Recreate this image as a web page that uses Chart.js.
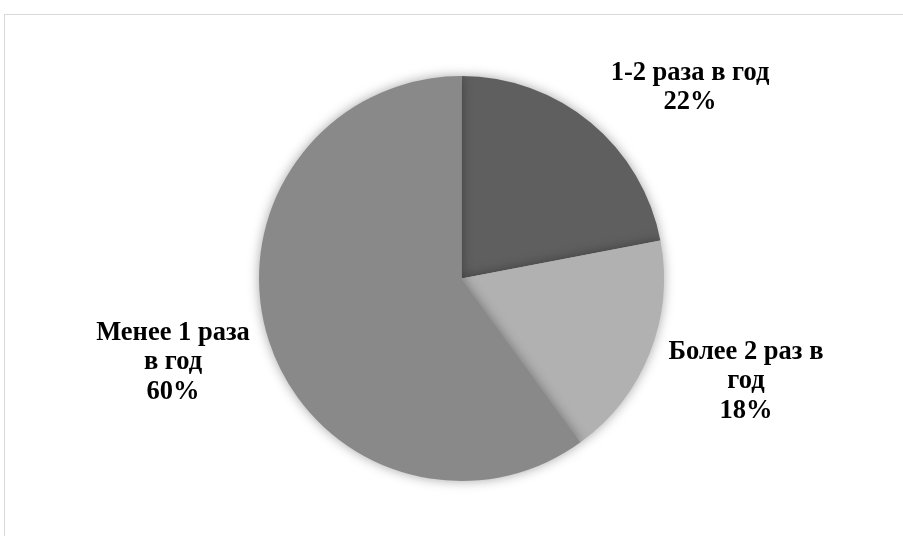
<!DOCTYPE html>
<html>
<head>
<meta charset="utf-8">
<script src="https://cdn.jsdelivr.net/npm/chart.js@4"></script>
<style>
  html, body { margin: 0; padding: 0; background: #fff; }
  #wrap { position: relative; width: 903px; height: 536px; overflow: hidden; }
  #frame { position: absolute; left: 4px; top: 14px; width: 920px; height: 540px;
           border: 1px solid #d9d9d9; box-sizing: border-box; }
  #chart { position: absolute; left: 0; top: 0; }
</style>
</head>
<body>
<div id="wrap">
  <div id="frame"></div>
  <canvas id="chart" width="903" height="536"></canvas>
</div>
<script>
// data
const categories = ['1-2 раза в год', 'Более 2 раз в год', 'Менее 1 раза в год'];
const shares = [22, 18, 60];
const sliceColors = ['#5f5f5f', '#b1b1b1', '#898989'];

// label text lines and where each label sits
const labelLines = [
  ['1-2 раза в год', '22%'],
  ['Более 2 раз в', 'год', '18%'],
  ['Менее 1 раза', 'в год', '60%']
];
const labelPos = [[690, 73], [746, 352], [173, 333]];

// soft shadow under the pie
const shadowPlugin = {
  id: 'pieShadow',
  beforeDatasetsDraw(chart) {
    const ctx = chart.ctx;
    ctx.save();
    ctx.shadowColor = 'rgba(0,0,0,0.35)';
    ctx.shadowBlur = 12;
    ctx.shadowOffsetX = 0;
    ctx.shadowOffsetY = 0;
  },
  afterDatasetsDraw(chart) {
    chart.ctx.restore();
  }
};

// category labels with percentages
const labelPlugin = {
  id: 'sliceLabels',
  afterDraw(chart) {
    const ctx = chart.ctx;
    ctx.save();
    ctx.font = 'bold 26.5px "Liberation Serif", "Times New Roman", serif';
    ctx.fillStyle = '#000';
    ctx.textAlign = 'center';
    ctx.textBaseline = 'middle';
    labelLines.forEach((lines, i) => {
      const [x, y] = labelPos[i];
      lines.forEach((t, j) => ctx.fillText(t, x, y + j * 29.5));
    });
    ctx.restore();
  }
};

new Chart(document.getElementById('chart'), {
  type: 'pie',
  data: {
    labels: categories,
    datasets: [{
      data: shares,
      backgroundColor: sliceColors,
      borderWidth: 0
    }]
  },
  options: {
    responsive: false,
    animation: false,
    layout: { padding: { left: 259, right: 239, top: 76, bottom: 55 } },
    plugins: {
      legend: { display: false },
      tooltip: { enabled: false }
    }
  },
  plugins: [shadowPlugin, labelPlugin]
});
</script>
</body>
</html>
